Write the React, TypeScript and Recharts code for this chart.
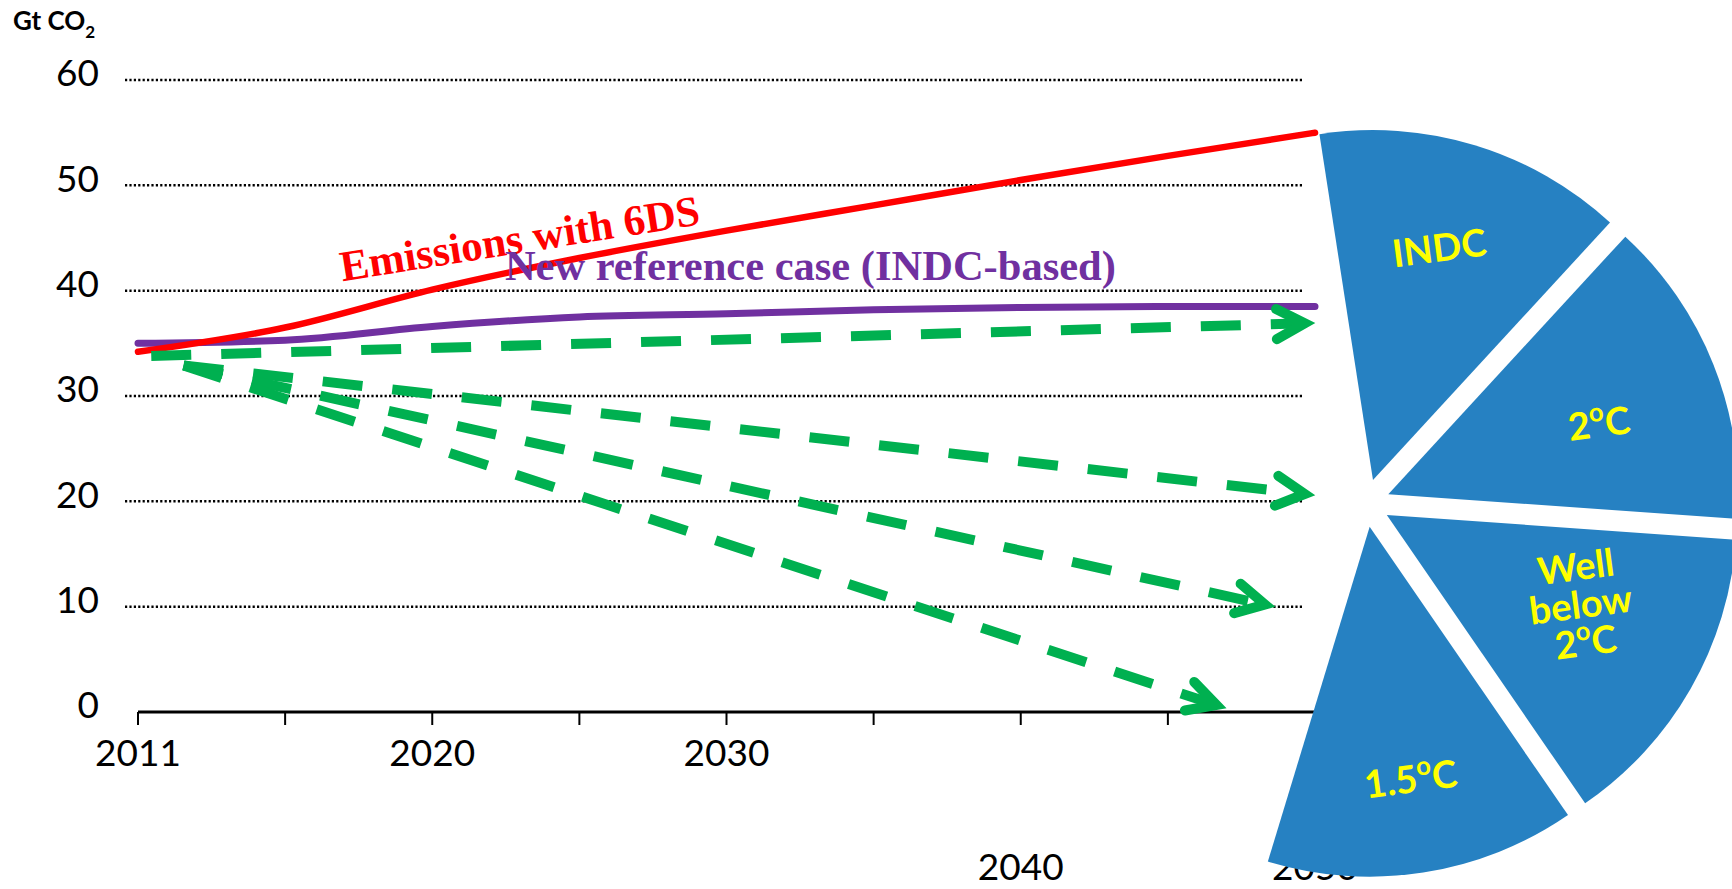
import React from 'react'
import { LineChart, Line, XAxis, YAxis, CartesianGrid, ReferenceDot, PieChart, Pie, Cell } from 'recharts'

// x positions are indexes into YEARS (equal category spacing)
const YEARS = ['2011', '2015', '2020', '2025', '2030', '2035', '2040', '2045', '2050']
const YEAR_LABELS = ['2011', '', '2020', '', '2030', '', '2040', '', '2050']
const DROPPED_LABELS = ['2040', '2050']
const Y_TICKS = [0, 10, 20, 30, 40, 50, 60]
const GRID_VALUES = [10, 20, 30, 40, 50, 60]

const EMISSIONS_6DS = [34.2, 36.5, 40.1, 43.1, 45.7, 48.1, 50.5, 52.8, 55.0]
const NEW_REFERENCE = [35.0, 35.3, 36.6, 37.5, 37.8, 38.2, 38.4, 38.5, 38.5]

// pathway arrows, start and end as (year index, Gt CO2)
const PATHWAY_FROM_X = [0.09, 0.31, 0.31, 0.31]
const PATHWAY_FROM_Y = [33.8, 32.9, 32.9, 32.9]
const PATHWAY_TO_X = [7.93, 7.93, 7.66, 7.33]
const PATHWAY_TO_Y = [36.9, 20.7, 10.2, 0.66]

const SCENARIOS = ['INDC', '2°C', 'Well below 2°C', '1.5°C']
const SCENARIO_SHARES = [1, 1, 1, 1]
const GAP_SHARE = 3

const RED = '#FF0000'
const PURPLE = '#7030A0'
const GREEN = '#00B050'
const BLUE = '#2681C2'
const YELLOW = '#FFFF00'
const FONT = 'Lato, "Open Sans", sans-serif'
const SERIF = '"Liberation Serif", "Times New Roman", serif'

const PIE_START = 98.8
const EXPLODE = 24
// label placement inside each slice: fraction of radius, angle nudge (deg)
const LABEL_RADIUS = [0.69, 0.635, 0.61, 0.73]
const LABEL_TURN = [0.9, -2.8, 4.5, 0.4]

const lineRows = YEARS.map((_, i) => ({ x: i, sixDS: EMISSIONS_6DS[i], reference: NEW_REFERENCE[i] }))

const pathways = PATHWAY_FROM_X.map((_, i) => [
  { x: PATHWAY_FROM_X[i], v: PATHWAY_FROM_Y[i] },
  { x: PATHWAY_TO_X[i], v: PATHWAY_TO_Y[i] },
])

const pieRows = [
  ...SCENARIOS.map((name, i) => ({ name, value: SCENARIO_SHARES[i] })),
  { name: '', value: GAP_SHARE },
]

// push each slice outward along its own mid angle
const pieTotal = pieRows.reduce((s, d) => s + d.value, 0)
const sliceShift = (() => {
  let acc = 0
  return pieRows.map((d) => {
    const mid = PIE_START - ((acc + d.value / 2) / pieTotal) * 360
    acc += d.value
    const rad = (mid * Math.PI) / 180
    return { dx: EXPLODE * Math.cos(rad), dy: -EXPLODE * Math.sin(rad) }
  })
})()

function YTick(props: any) {
  const { x, y, payload } = props
  return (
    <text x={x} y={y + 9.8 - 3.5} textAnchor="end" fontFamily={FONT} fontSize={37} fill="#000">
      {payload.value}
    </text>
  )
}

function YearTick(props: any) {
  const { x, y, payload } = props
  const label = YEAR_LABELS[payload.value]
  if (!label) return null
  const dropped = DROPPED_LABELS.includes(label)
  return (
    <text x={x} y={y + (dropped ? 155 : 41)} textAnchor="middle" fontFamily={FONT} fontSize={37} fill="#000">
      {label}
    </text>
  )
}

function ArrowHead(props: any) {
  const { cx, cy, index, points } = props
  if (!points || index !== points.length - 1) return <g key={`head-${index}`} />
  const prev = points[index - 1]
  const ang = Math.atan2(cy - prev.y, cx - prev.x)
  const len = 32
  const spread = (28 * Math.PI) / 180
  const ax = cx - len * Math.cos(ang - spread)
  const ay = cy - len * Math.sin(ang - spread)
  const bx = cx - len * Math.cos(ang + spread)
  const by = cy - len * Math.sin(ang + spread)
  return (
    <path
      key={`head-${index}`}
      d={`M${ax},${ay}L${cx},${cy}L${bx},${by}`}
      fill="none"
      stroke={GREEN}
      strokeWidth={10}
      strokeLinecap="round"
      strokeLinejoin="miter"
    />
  )
}

// superscript "o" in place of the degree sign
function degreeText(line: string, fs: number) {
  const parts = line.split('°')
  if (parts.length < 2) return line
  return (
    <>
      {parts[0]}
      <tspan dy={-0.42 * fs} fontSize={0.68 * fs}>o</tspan>
      <tspan dy={0.42 * fs}>{parts[1]}</tspan>
    </>
  )
}

function renderScenarioLabel(p: any) {
  if (!p.name) return null
  const i = p.index
  const fs = 38
  const rad = (-(p.midAngle + LABEL_TURN[i]) * Math.PI) / 180
  const r = p.outerRadius * LABEL_RADIUS[i] + EXPLODE
  const x = p.cx + r * Math.cos(rad)
  const y = p.cy + r * Math.sin(rad)
  const lines = String(p.name).split(' ')
  const lh = 38
  return (
    <text
      key={`lbl-${i}`}
      transform={`rotate(-7.5 ${x} ${y})`}
      textAnchor="middle"
      fill={YELLOW}
      fontFamily={FONT}
      fontWeight={700}
      fontSize={fs}
    >
      {lines.map((ln, k) => (
        <tspan key={k} x={x} y={y + (k - (lines.length - 1) / 2) * lh + 0.36 * fs}>
          {degreeText(ln, fs)}
        </tspan>
      ))}
    </text>
  )
}

export default function App() {
  return (
    <div style={{ position: 'absolute', left: 0, top: 0, width: 1732, height: 889, overflow: 'hidden', background: '#fff' }}>
      <div
        style={{
          position: 'absolute',
          left: 13,
          top: 7,
          fontFamily: FONT,
          fontWeight: 700,
          fontSize: 26,
          lineHeight: '26px',
          whiteSpace: 'nowrap',
        }}
      >
        Gt CO<span style={{ fontSize: 17, position: 'relative', top: 8 }}>2</span>
      </div>

      <div style={{ position: 'absolute', left: 0, top: 0 }}>
        <LineChart width={1732} height={889} data={lineRows} margin={{ top: 80, right: 417, bottom: 0, left: 0 }}>
          <CartesianGrid
            vertical={false}
            horizontalValues={GRID_VALUES}
            x={125}
            width={1178}
            stroke="#000"
            strokeWidth={2.5}
            strokeDasharray="2.2 2.2"
          />
          <XAxis
            dataKey="x"
            type="number"
            domain={[0, YEARS.length - 1]}
            ticks={YEARS.map((_, i) => i)}
            interval={0}
            height={177}
            tickSize={13}
            tickMargin={0}
            axisLine={{ stroke: '#000', strokeWidth: 3 }}
            tickLine={{ stroke: '#000', strokeWidth: 2 }}
            tick={<YearTick />}
          />
          <YAxis
            type="number"
            domain={[0, 60]}
            ticks={Y_TICKS}
            width={138}
            axisLine={false}
            tickLine={false}
            tickSize={0}
            tickMargin={39}
            tick={<YTick />}
          />
          <Line
            dataKey="reference"
            type="monotone"
            stroke={PURPLE}
            strokeWidth={7}
            strokeLinecap="round"
            dot={false}
            isAnimationActive={false}
          />
          <Line
            dataKey="sixDS"
            type="monotone"
            stroke={RED}
            strokeWidth={6.5}
            strokeLinecap="round"
            dot={false}
            isAnimationActive={false}
          />
          {pathways.map((pts, i) => (
            <Line
              key={`path-${i}`}
              data={pts}
              dataKey="v"
              type="linear"
              stroke={GREEN}
              strokeWidth={10}
              strokeDasharray="40 30"
              dot={ArrowHead}
              isAnimationActive={false}
            />
          ))}
          <ReferenceDot
            x={2.61}
            y={43.6}
            r={0}
            ifOverflow="visible"
            label={(p: any) => (
              <text
                x={p.viewBox.x}
                y={p.viewBox.y}
                transform={`rotate(-9 ${p.viewBox.x} ${p.viewBox.y})`}
                textAnchor="middle"
                fontFamily={SERIF}
                fontWeight={700}
                fontSize={43}
                fill={RED}
              >
                Emissions with 6DS
              </text>
            )}
          />
          <ReferenceDot
            x={4.57}
            y={41.0}
            r={0}
            ifOverflow="visible"
            label={(p: any) => (
              <text
                x={p.viewBox.x}
                y={p.viewBox.y}
                textAnchor="middle"
                fontFamily={SERIF}
                fontWeight={700}
                fontSize={42.5}
                fill={PURPLE}
              >
                New reference case (INDC-based)
              </text>
            )}
          />
        </LineChart>
      </div>

      <div style={{ position: 'absolute', left: 966, top: 103 }}>
        <PieChart width={800} height={800} margin={{ top: 0, right: 0, bottom: 0, left: 0 }}>
          <Pie
            data={pieRows}
            dataKey="value"
            nameKey="name"
            cx={400}
            cy={400}
            innerRadius={0}
            outerRadius={350}
            startAngle={PIE_START}
            endAngle={PIE_START - 360}
            stroke="none"
            label={renderScenarioLabel}
            labelLine={false}
            isAnimationActive={false}
          >
            {pieRows.map((d, i) => (
              <Cell
                key={`slice-${i}`}
                fill={d.name ? BLUE : 'none'}
                transform={`translate(${sliceShift[i].dx},${sliceShift[i].dy})`}
              />
            ))}
          </Pie>
        </PieChart>
      </div>
    </div>
  )
}
